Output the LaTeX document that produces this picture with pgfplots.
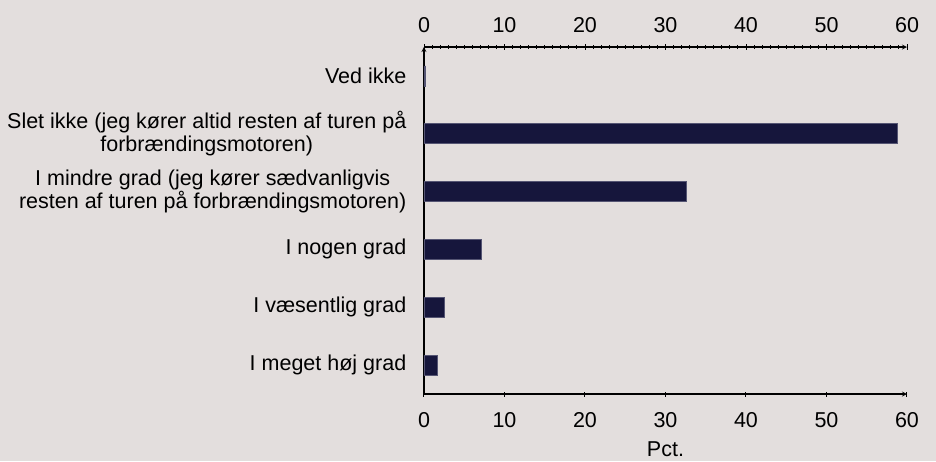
\documentclass[border=0pt]{standalone}
\usepackage{fontspec}
\setmainfont{Liberation Sans}
\usepackage{pgfplots}
\pgfplotsset{compat=1.18}
\usetikzlibrary{backgrounds}

\definecolor{bgc}{RGB}{227,222,221}
\definecolor{barc}{RGB}{22,22,60}
\definecolor{barb}{RGB}{85,85,115}

\newcommand{\lblfont}{\fontsize{21.5}{22.5}\selectfont}

\begin{document}
\begin{tikzpicture}
\pgfplotsset{
  common/.style={
    width=483pt, height=347pt, scale only axis,
    xmin=0, xmax=60, ymin=-0.5, ymax=5.5,
    axis line style={-, line width=1.2pt, black},
    tick style={line width=1pt, black},
    tick align=outside,
    /pgf/number format/assume math mode=true,
    ticklabel style={font=\lblfont},
  }
}
% main axis (bottom + left)
\begin{axis}[
  common,
  xbar, bar width=20pt,
  axis x line=bottom, axis y line=left,
  xtick={0,10,...,60},
  major tick length=5pt,
  xticklabel style={yshift=-12pt},
  xlabel={Pct.},
  xlabel style={font=\lblfont, yshift=-8pt},
  ytick={0,1,2,3,4,5},
  yticklabels={I meget høj grad, I væsentlig grad, I nogen grad,
    {I mindre grad (jeg kører sædvanligvis\\resten af turen på forbrændingsmotoren)},
    {Slet ikke (jeg kører altid resten af turen på\\forbrændingsmotoren)},
    Ved ikke},
  yticklabel style={align=center, inner sep=0pt, xshift=-15pt},
  y tick style={draw=none},
  extra y ticks={-0.5,0.5,1.5,2.5,3.5,4.5,5.5},
  extra y tick labels={},
  extra y tick style={tick style={draw=black, line width=1pt}, major tick length=6pt},
]
\addplot[fill=barc, draw=barb, line width=0.6pt] coordinates {
  (1.6,0) (2.5,1) (7.1,2) (32.6,3) (58.8,4) (0.2,5)
};
\end{axis}
% top axis
\begin{axis}[
  common,
  axis x line=top, axis y line=none,
  xtick={0,10,...,60},
  minor x tick num=9,
  major tick length=6pt, minor tick length=4pt,
  xticklabel style={yshift=8pt},
]
\addplot[draw=none] coordinates {(0,0)};
\end{axis}
\pgfresetboundingbox
\begin{scope}[on background layer]
\fill[bgc] (-424pt,-67pt) rectangle (512pt,394pt);
\end{scope}
\end{tikzpicture}
\end{document}
